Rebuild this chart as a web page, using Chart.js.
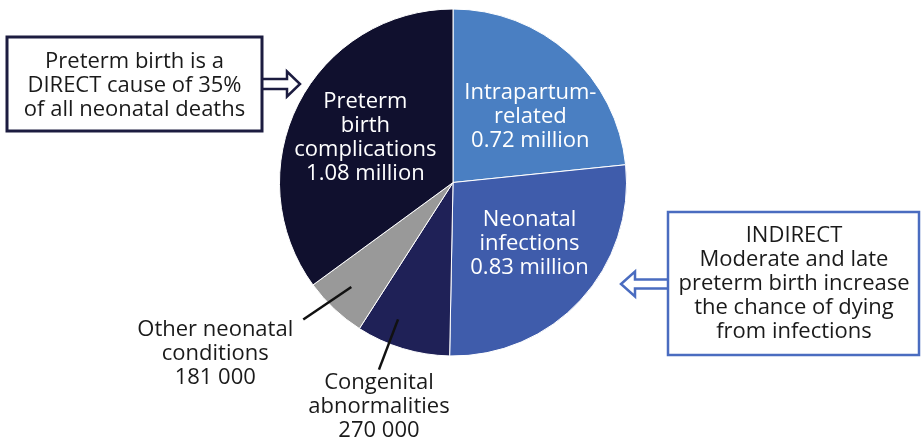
<!DOCTYPE html>
<html>
<head>
<meta charset="utf-8">
<script src="https://cdn.jsdelivr.net/npm/chart.js@4/dist/chart.umd.min.js"></script>
<style>
html, body { margin: 0; padding: 0; background: #fff; }
#wrap { width: 921px; height: 438px; position: relative; }
</style>
</head>
<body>
<div id="wrap"><canvas id="chart"></canvas></div>
<script>
// causes of neonatal deaths, clockwise from 12 o'clock
const causes = ['Intrapartum-related', 'Neonatal infections', 'Congenital abnormalities', 'Other neonatal conditions', 'Preterm birth complications'];
const deathsMillion = [0.72, 0.83, 0.27, 0.181, 1.08];
const sliceText = [
    ['Intrapartum-', 'related', '0.72 million'],
    ['Neonatal', 'infections', '0.83 million'],
    ['Congenital', 'abnormalities', '270 000'],
    ['Other neonatal', 'conditions', '181 000'],
    ['Preterm', 'birth', 'complications', '1.08 million']
];
const sliceColors = ['#4a7fc2', '#3f5cab', '#1f2157', '#999999', '#10102e'];

const directNote = ['Preterm birth is a', 'DIRECT cause of 35%', 'of all neonatal deaths'];
const indirectNote = ['INDIRECT', 'Moderate and late', 'preterm birth increase', 'the chance of dying', 'from infections'];

const FONT = '22px "Open Sans", "Noto Sans", sans-serif';
const LINE = 24;
const NUDGE = 1.5; // canvas 'middle' sits a bit above cap centre

// where each label goes, relative to its slice (degrees off mid angle, fraction of radius)
const placement = [
    { inside: true, da: 7, r: 0.59 },
    { inside: true, da: -4.6, r: 0.56 },
    { inside: false, da: 5, r: 0.85, da2: 4.7, r2: 1.16, dx: 0, dy: 12 },
    { inside: false, da: 1, r: 0.84, da2: 4.3, r2: 1.17, dx: -88, dy: 9 },
    { inside: true, da: 0.7, r: 0.57 }
];

function drawLines(ctx, lines, x, y, color) {
    ctx.fillStyle = color;
    lines.forEach((t, i) => ctx.fillText(t, x, y + NUDGE + i * LINE));
}

function hollowArrow(ctx, baseX, tipX, y, shaftHalf, headHalf, headLen, color) {
    const dir = tipX > baseX ? 1 : -1;
    const headBase = tipX - dir * headLen;
    ctx.beginPath();
    ctx.moveTo(baseX, y - shaftHalf);
    ctx.lineTo(headBase, y - shaftHalf);
    ctx.lineTo(headBase, y - headHalf);
    ctx.lineTo(tipX, y);
    ctx.lineTo(headBase, y + headHalf);
    ctx.lineTo(headBase, y + shaftHalf);
    ctx.lineTo(baseX, y + shaftHalf);
    ctx.fillStyle = '#fff';
    ctx.fill();
    ctx.strokeStyle = color;
    ctx.lineWidth = 2.5;
    ctx.stroke();
}

const labelPlugin = {
    id: 'sliceLabels',
    afterDraw(chart) {
        const ctx = chart.ctx;
        const arcs = chart.getDatasetMeta(0).data;
        ctx.save();
        ctx.font = FONT;
        ctx.textAlign = 'center';
        ctx.textBaseline = 'middle';
        arcs.forEach((arc, i) => {
            const p = placement[i];
            const mid = (arc.startAngle + arc.endAngle) / 2;
            const R = arc.outerRadius;
            const a = mid + p.da * Math.PI / 180;
            const x = arc.x + Math.cos(a) * R * p.r;
            const y = arc.y + Math.sin(a) * R * p.r;
            const lines = sliceText[i];
            if (p.inside) {
                drawLines(ctx, lines, x, y - (lines.length - 1) * LINE / 2, '#ffffff');
            } else {
                const a2 = mid + p.da2 * Math.PI / 180;
                const x2 = arc.x + Math.cos(a2) * R * p.r2;
                const y2 = arc.y + Math.sin(a2) * R * p.r2;
                ctx.beginPath();
                ctx.moveTo(x, y);
                ctx.lineTo(x2, y2);
                ctx.strokeStyle = '#111';
                ctx.lineWidth = 2.5;
                ctx.stroke();
                drawLines(ctx, lines, x2 + p.dx, y2 + p.dy, '#1a1a1a');
            }
        });

        // DIRECT callout
        hollowArrow(ctx, 262, 300, 84, 5, 12.5, 13, '#1c1c40');
        ctx.fillStyle = '#fff';
        ctx.fillRect(7, 37, 255, 94);
        ctx.strokeStyle = '#1c1c40';
        ctx.lineWidth = 3;
        ctx.strokeRect(7, 37, 255, 94);
        drawLines(ctx, directNote, 134.5, 60, '#1a1a1a');

        // INDIRECT callout
        hollowArrow(ctx, 668, 621, 284, 4.5, 12.5, 14, '#4a6cc0');
        ctx.fillStyle = '#fff';
        ctx.fillRect(668, 212, 252, 143);
        ctx.strokeStyle = '#4a6cc0';
        ctx.lineWidth = 2.5;
        ctx.strokeRect(668, 212, 251, 143);
        drawLines(ctx, indirectNote, 794, 234, '#1a1a1a');
        ctx.restore();
    }
};

const ctx = document.getElementById('chart').getContext('2d');
const chart = new Chart(ctx, {
    type: 'pie',
    data: {
        labels: causes,
        datasets: [{
            data: deathsMillion,
            backgroundColor: sliceColors,
            borderColor: '#ffffff',
            borderWidth: 1
        }]
    },
    options: {
        responsive: true,
        maintainAspectRatio: false,
        animation: false,
        layout: { padding: { left: 279, right: 294, top: 8, bottom: 81 } },
        plugins: {
            legend: { display: false },
            tooltip: { enabled: false }
        }
    },
    plugins: [labelPlugin]
});
</script>
</body>
</html>
